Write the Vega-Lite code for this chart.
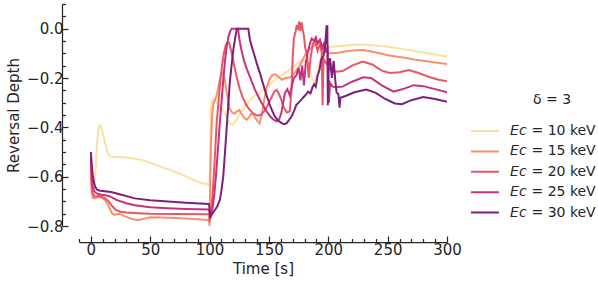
{
  "$schema": "https://vega.github.io/schema/vega-lite/v6.json",
  "autosize": {"type": "none"},
  "padding": {"left": 79, "top": 4, "right": 151, "bottom": 56},
  "width": 368,
  "height": 222,
  "background": "white",
  "config": {
    "view": {"stroke": null},
    "font": "DejaVu Sans",
    "axis": {"domainColor": "#262626", "domainWidth": 1.25, "tickColor": "#262626", "tickWidth": 1.25, "labelColor": "#262626", "titleColor": "#262626", "labelFont": "DejaVu Sans", "titleFont": "DejaVu Sans", "labelFontSize": 15, "titleFontSize": 15, "titleFontWeight": "normal", "grid": false, "labelOverlap": false, "labelFlush": false},
    "legend": {"labelFont": "DejaVu Sans", "titleFont": "DejaVu Sans", "labelFontSize": 14, "titleFontSize": 14, "titleFontWeight": "normal", "labelColor": "#262626", "titleColor": "#262626"}
  },
  "data": {"values": [
    {"s":"10","t":0,"v":-0.56},{"s":"10","t":1,"v":-0.6},{"s":"10","t":2.5,"v":-0.635},{"s":"10","t":3.5,"v":-0.61},{"s":"10","t":4.5,"v":-0.52},{"s":"10","t":5.5,"v":-0.45},{"s":"10","t":6.5,"v":-0.405},{"s":"10","t":7.5,"v":-0.39},{"s":"10","t":8.5,"v":-0.395},{"s":"10","t":10,"v":-0.42},{"s":"10","t":12,"v":-0.465},{"s":"10","t":14,"v":-0.5},{"s":"10","t":16,"v":-0.518},{"s":"10","t":18,"v":-0.52},{"s":"10","t":25,"v":-0.52},{"s":"10","t":35,"v":-0.525},{"s":"10","t":45,"v":-0.535},{"s":"10","t":55,"v":-0.553},{"s":"10","t":65,"v":-0.57},{"s":"10","t":75,"v":-0.588},{"s":"10","t":85,"v":-0.61},{"s":"10","t":92,"v":-0.625},{"s":"10","t":99.5,"v":-0.632},{"s":"10","t":100,"v":-0.63},{"s":"10","t":100.5,"v":-0.5},{"s":"10","t":101,"v":-0.33},{"s":"10","t":102,"v":-0.29},{"s":"10","t":104,"v":-0.288},{"s":"10","t":106,"v":-0.3},{"s":"10","t":108.5,"v":-0.315},{"s":"10","t":111,"v":-0.33},{"s":"10","t":113,"v":-0.345},{"s":"10","t":115,"v":-0.37},{"s":"10","t":117,"v":-0.385},{"s":"10","t":119.5,"v":-0.39},{"s":"10","t":122,"v":-0.375},{"s":"10","t":125,"v":-0.345},{"s":"10","t":128,"v":-0.33},{"s":"10","t":131,"v":-0.31},{"s":"10","t":134,"v":-0.29},{"s":"10","t":137,"v":-0.275},{"s":"10","t":142,"v":-0.26},{"s":"10","t":148,"v":-0.24},{"s":"10","t":153,"v":-0.215},{"s":"10","t":159,"v":-0.194},{"s":"10","t":165,"v":-0.175},{"s":"10","t":170.5,"v":-0.155},{"s":"10","t":176,"v":-0.135},{"s":"10","t":180,"v":-0.128},{"s":"10","t":182.5,"v":-0.135},{"s":"10","t":184.5,"v":-0.17},{"s":"10","t":186.5,"v":-0.205},{"s":"10","t":188.5,"v":-0.215},{"s":"10","t":190.5,"v":-0.19},{"s":"10","t":192.5,"v":-0.14},{"s":"10","t":194.5,"v":-0.1},{"s":"10","t":197,"v":-0.082},{"s":"10","t":200,"v":-0.075},{"s":"10","t":210,"v":-0.07},{"s":"10","t":220,"v":-0.066},{"s":"10","t":229.5,"v":-0.064},{"s":"10","t":240,"v":-0.068},{"s":"10","t":252,"v":-0.074},{"s":"10","t":266,"v":-0.085},{"s":"10","t":280,"v":-0.097},{"s":"10","t":290,"v":-0.105},{"s":"10","t":300,"v":-0.113},

    {"s":"15","t":0,"v":-0.6},{"s":"15","t":0.7,"v":-0.66},{"s":"15","t":1.5,"v":-0.685},{"s":"15","t":3,"v":-0.688},{"s":"15","t":6,"v":-0.683},{"s":"15","t":9,"v":-0.685},{"s":"15","t":12,"v":-0.695},{"s":"15","t":14,"v":-0.71},{"s":"15","t":16,"v":-0.73},{"s":"15","t":18,"v":-0.75},{"s":"15","t":20,"v":-0.755},{"s":"15","t":22,"v":-0.752},{"s":"15","t":24,"v":-0.75},{"s":"15","t":27,"v":-0.757},{"s":"15","t":31,"v":-0.765},{"s":"15","t":35,"v":-0.772},{"s":"15","t":40,"v":-0.777},{"s":"15","t":45,"v":-0.77},{"s":"15","t":50,"v":-0.765},{"s":"15","t":60,"v":-0.766},{"s":"15","t":70,"v":-0.768},{"s":"15","t":80,"v":-0.77},{"s":"15","t":90,"v":-0.773},{"s":"15","t":99.5,"v":-0.776},{"s":"15","t":100,"v":-0.8},{"s":"15","t":100.4,"v":-0.66},{"s":"15","t":101,"v":-0.5},{"s":"15","t":101.7,"v":-0.4},{"s":"15","t":102.5,"v":-0.33},{"s":"15","t":103.5,"v":-0.3},{"s":"15","t":105,"v":-0.285},{"s":"15","t":106.5,"v":-0.26},{"s":"15","t":108,"v":-0.22},{"s":"15","t":109.5,"v":-0.19},{"s":"15","t":111,"v":-0.18},{"s":"15","t":112.5,"v":-0.2},{"s":"15","t":114,"v":-0.245},{"s":"15","t":115.5,"v":-0.29},{"s":"15","t":117,"v":-0.325},{"s":"15","t":119,"v":-0.34},{"s":"15","t":121,"v":-0.345},{"s":"15","t":123,"v":-0.335},{"s":"15","t":125,"v":-0.33},{"s":"15","t":127,"v":-0.345},{"s":"15","t":129,"v":-0.36},{"s":"15","t":131,"v":-0.37},{"s":"15","t":133,"v":-0.36},{"s":"15","t":135,"v":-0.345},{"s":"15","t":137,"v":-0.35},{"s":"15","t":139.5,"v":-0.37},{"s":"15","t":142,"v":-0.385},{"s":"15","t":144,"v":-0.35},{"s":"15","t":146,"v":-0.29},{"s":"15","t":148,"v":-0.24},{"s":"15","t":150.5,"v":-0.205},{"s":"15","t":153,"v":-0.187},{"s":"15","t":155.5,"v":-0.185},{"s":"15","t":158,"v":-0.195},{"s":"15","t":161,"v":-0.207},{"s":"15","t":164,"v":-0.2},{"s":"15","t":167,"v":-0.198},{"s":"15","t":170,"v":-0.19},{"s":"15","t":173,"v":-0.17},{"s":"15","t":176,"v":-0.15},{"s":"15","t":179,"v":-0.12},{"s":"15","t":182,"v":-0.092},{"s":"15","t":185,"v":-0.08},{"s":"15","t":187,"v":-0.072},{"s":"15","t":189.5,"v":-0.062},{"s":"15","t":192,"v":-0.05},{"s":"15","t":194,"v":-0.06},{"s":"15","t":196.5,"v":-0.08},{"s":"15","t":199,"v":-0.098},{"s":"15","t":202,"v":-0.1},{"s":"15","t":208,"v":-0.098},{"s":"15","t":215.5,"v":-0.092},{"s":"15","t":222,"v":-0.088},{"s":"15","t":229.5,"v":-0.087},{"s":"15","t":236,"v":-0.093},{"s":"15","t":243.5,"v":-0.1},{"s":"15","t":250,"v":-0.108},{"s":"15","t":257,"v":-0.113},{"s":"15","t":266,"v":-0.119},{"s":"15","t":272,"v":-0.125},{"s":"15","t":280,"v":-0.13},{"s":"15","t":290,"v":-0.137},{"s":"15","t":300,"v":-0.143},

    {"s":"20","t":0,"v":-0.55},{"s":"20","t":0.7,"v":-0.62},{"s":"20","t":1.5,"v":-0.665},{"s":"20","t":3,"v":-0.68},{"s":"20","t":6,"v":-0.678},{"s":"20","t":9,"v":-0.68},{"s":"20","t":12,"v":-0.688},{"s":"20","t":15,"v":-0.7},{"s":"20","t":18,"v":-0.72},{"s":"20","t":21,"v":-0.735},{"s":"20","t":25,"v":-0.742},{"s":"20","t":30,"v":-0.745},{"s":"20","t":40,"v":-0.748},{"s":"20","t":50,"v":-0.75},{"s":"20","t":70,"v":-0.751},{"s":"20","t":99.5,"v":-0.752},{"s":"20","t":100,"v":-0.775},{"s":"20","t":101,"v":-0.765},{"s":"20","t":102,"v":-0.71},{"s":"20","t":103,"v":-0.64},{"s":"20","t":104,"v":-0.56},{"s":"20","t":105,"v":-0.47},{"s":"20","t":106,"v":-0.38},{"s":"20","t":107.5,"v":-0.3},{"s":"20","t":109,"v":-0.215},{"s":"20","t":110.5,"v":-0.15},{"s":"20","t":112,"v":-0.1},{"s":"20","t":113.5,"v":-0.07},{"s":"20","t":115,"v":-0.055},{"s":"20","t":116.5,"v":-0.058},{"s":"20","t":118,"v":-0.085},{"s":"20","t":119.5,"v":-0.12},{"s":"20","t":121,"v":-0.155},{"s":"20","t":123,"v":-0.2},{"s":"20","t":125.5,"v":-0.245},{"s":"20","t":128,"v":-0.28},{"s":"20","t":131,"v":-0.31},{"s":"20","t":134,"v":-0.33},{"s":"20","t":137,"v":-0.345},{"s":"20","t":140,"v":-0.352},{"s":"20","t":143,"v":-0.35},{"s":"20","t":146,"v":-0.335},{"s":"20","t":149,"v":-0.31},{"s":"20","t":152,"v":-0.28},{"s":"20","t":154.5,"v":-0.255},{"s":"20","t":156.5,"v":-0.248},{"s":"20","t":158.5,"v":-0.265},{"s":"20","t":160.5,"v":-0.29},{"s":"20","t":162.5,"v":-0.32},{"s":"20","t":165,"v":-0.34},{"s":"20","t":167.5,"v":-0.335},{"s":"20","t":169,"v":-0.25},{"s":"20","t":170,"v":-0.12},{"s":"20","t":171,"v":-0.04},{"s":"20","t":172.5,"v":-0.01},{"s":"20","t":173.5,"v":0.015},{"s":"20","t":174.5,"v":-0.005},{"s":"20","t":175.5,"v":0.03},{"s":"20","t":176.5,"v":-0.01},{"s":"20","t":177.5,"v":0.025},{"s":"20","t":178.5,"v":-0.005},{"s":"20","t":179.5,"v":-0.03},{"s":"20","t":180.5,"v":-0.078},{"s":"20","t":182,"v":-0.1},{"s":"20","t":183.5,"v":-0.2},{"s":"20","t":185,"v":-0.12},{"s":"20","t":187,"v":-0.06},{"s":"20","t":189,"v":-0.05},{"s":"20","t":191,"v":-0.09},{"s":"20","t":193,"v":-0.06},{"s":"20","t":194.5,"v":-0.1},{"s":"20","t":195.2,"v":-0.31},{"s":"20","t":196,"v":-0.12},{"s":"20","t":198,"v":-0.14},{"s":"20","t":200,"v":-0.15},{"s":"20","t":202,"v":-0.17},{"s":"20","t":206,"v":-0.175},{"s":"20","t":212,"v":-0.172},{"s":"20","t":220,"v":-0.15},{"s":"20","t":229,"v":-0.133},{"s":"20","t":237,"v":-0.145},{"s":"20","t":245,"v":-0.17},{"s":"20","t":252,"v":-0.18},{"s":"20","t":260,"v":-0.177},{"s":"20","t":268,"v":-0.168},{"s":"20","t":276,"v":-0.18},{"s":"20","t":285,"v":-0.196},{"s":"20","t":293,"v":-0.207},{"s":"20","t":300,"v":-0.213},

    {"s":"25","t":0,"v":-0.52},{"s":"25","t":0.7,"v":-0.6},{"s":"25","t":1.5,"v":-0.64},{"s":"25","t":3,"v":-0.66},{"s":"25","t":5,"v":-0.668},{"s":"25","t":8,"v":-0.672},{"s":"25","t":12,"v":-0.675},{"s":"25","t":17,"v":-0.682},{"s":"25","t":22,"v":-0.695},{"s":"25","t":30,"v":-0.708},{"s":"25","t":37,"v":-0.716},{"s":"25","t":50,"v":-0.724},{"s":"25","t":65,"v":-0.728},{"s":"25","t":80,"v":-0.731},{"s":"25","t":99.5,"v":-0.733},{"s":"25","t":100,"v":-0.75},{"s":"25","t":101.5,"v":-0.752},{"s":"25","t":102.5,"v":-0.73},{"s":"25","t":104,"v":-0.67},{"s":"25","t":105.5,"v":-0.59},{"s":"25","t":107,"v":-0.49},{"s":"25","t":108.5,"v":-0.39},{"s":"25","t":110,"v":-0.3},{"s":"25","t":111.5,"v":-0.21},{"s":"25","t":113,"v":-0.13},{"s":"25","t":114.5,"v":-0.07},{"s":"25","t":116,"v":-0.03},{"s":"25","t":117.5,"v":-0.01},{"s":"25","t":118.5,"v":0},{"s":"25","t":124,"v":0},{"s":"25","t":125,"v":-0.04},{"s":"25","t":126.5,"v":-0.08},{"s":"25","t":129,"v":-0.13},{"s":"25","t":131.5,"v":-0.165},{"s":"25","t":134,"v":-0.195},{"s":"25","t":138,"v":-0.245},{"s":"25","t":142.4,"v":-0.288},{"s":"25","t":145,"v":-0.31},{"s":"25","t":148,"v":-0.335},{"s":"25","t":151,"v":-0.355},{"s":"25","t":153.6,"v":-0.368},{"s":"25","t":156.5,"v":-0.376},{"s":"25","t":158.5,"v":-0.37},{"s":"25","t":160.5,"v":-0.34},{"s":"25","t":162,"v":-0.3},{"s":"25","t":163.5,"v":-0.26},{"s":"25","t":165.5,"v":-0.245},{"s":"25","t":167.5,"v":-0.27},{"s":"25","t":169,"v":-0.24},{"s":"25","t":171,"v":-0.2},{"s":"25","t":173,"v":-0.19},{"s":"25","t":175,"v":-0.16},{"s":"25","t":176.5,"v":-0.21},{"s":"25","t":178,"v":-0.15},{"s":"25","t":179.5,"v":-0.23},{"s":"25","t":181,"v":-0.14},{"s":"25","t":182.5,"v":-0.1},{"s":"25","t":184.5,"v":-0.06},{"s":"25","t":186,"v":-0.04},{"s":"25","t":188,"v":-0.05},{"s":"25","t":189.5,"v":-0.035},{"s":"25","t":191,"v":-0.06},{"s":"25","t":193,"v":-0.045},{"s":"25","t":195,"v":-0.08},{"s":"25","t":196.5,"v":-0.06},{"s":"25","t":198,"v":-0.09},{"s":"25","t":199.5,"v":-0.08},{"s":"25","t":200.5,"v":-0.3},{"s":"25","t":201.5,"v":-0.22},{"s":"25","t":203.5,"v":-0.235},{"s":"25","t":207,"v":-0.237},{"s":"25","t":212,"v":-0.235},{"s":"25","t":220,"v":-0.215},{"s":"25","t":229.5,"v":-0.197},{"s":"25","t":236,"v":-0.2},{"s":"25","t":245,"v":-0.23},{"s":"25","t":255,"v":-0.255},{"s":"25","t":264,"v":-0.243},{"s":"25","t":272,"v":-0.229},{"s":"25","t":280,"v":-0.233},{"s":"25","t":290,"v":-0.245},{"s":"25","t":300,"v":-0.258},

    {"s":"30","t":0,"v":-0.5},{"s":"30","t":0.7,"v":-0.55},{"s":"30","t":1.5,"v":-0.59},{"s":"30","t":2.5,"v":-0.62},{"s":"30","t":3.5,"v":-0.64},{"s":"30","t":5,"v":-0.652},{"s":"30","t":7,"v":-0.656},{"s":"30","t":10,"v":-0.658},{"s":"30","t":17,"v":-0.662},{"s":"30","t":25,"v":-0.672},{"s":"30","t":37,"v":-0.688},{"s":"30","t":50,"v":-0.696},{"s":"30","t":65,"v":-0.701},{"s":"30","t":80,"v":-0.706},{"s":"30","t":99.5,"v":-0.711},{"s":"30","t":100,"v":-0.73},{"s":"30","t":100.6,"v":-0.762},{"s":"30","t":102,"v":-0.752},{"s":"30","t":104.5,"v":-0.735},{"s":"30","t":106.5,"v":-0.72},{"s":"30","t":108.7,"v":-0.694},{"s":"30","t":110,"v":-0.655},{"s":"30","t":111.5,"v":-0.6},{"s":"30","t":113,"v":-0.5},{"s":"30","t":114.3,"v":-0.41},{"s":"30","t":115.6,"v":-0.32},{"s":"30","t":117,"v":-0.22},{"s":"30","t":118.5,"v":-0.15},{"s":"30","t":120,"v":-0.085},{"s":"30","t":121.5,"v":-0.04},{"s":"30","t":123,"v":0},{"s":"30","t":132.6,"v":0},{"s":"30","t":134,"v":-0.045},{"s":"30","t":136,"v":-0.08},{"s":"30","t":138,"v":-0.112},{"s":"30","t":140,"v":-0.145},{"s":"30","t":142.4,"v":-0.18},{"s":"30","t":144.5,"v":-0.215},{"s":"30","t":146.6,"v":-0.248},{"s":"30","t":148.7,"v":-0.28},{"s":"30","t":150.8,"v":-0.31},{"s":"30","t":153,"v":-0.335},{"s":"30","t":155,"v":-0.356},{"s":"30","t":158,"v":-0.373},{"s":"30","t":160.7,"v":-0.383},{"s":"30","t":163,"v":-0.387},{"s":"30","t":165,"v":-0.383},{"s":"30","t":167,"v":-0.37},{"s":"30","t":169,"v":-0.356},{"s":"30","t":171,"v":-0.335},{"s":"30","t":173,"v":-0.31},{"s":"30","t":175,"v":-0.3},{"s":"30","t":177,"v":-0.29},{"s":"30","t":178.7,"v":-0.28},{"s":"30","t":181,"v":-0.268},{"s":"30","t":183,"v":-0.255},{"s":"30","t":185,"v":-0.262},{"s":"30","t":186.5,"v":-0.24},{"s":"30","t":188,"v":-0.225},{"s":"30","t":189.5,"v":-0.235},{"s":"30","t":191,"v":-0.19},{"s":"30","t":192.5,"v":-0.17},{"s":"30","t":194,"v":-0.125},{"s":"30","t":196,"v":-0.11},{"s":"30","t":197.5,"v":-0.06},{"s":"30","t":198.5,"v":0.01},{"s":"30","t":199.2,"v":0.01},{"s":"30","t":199.6,"v":-0.31},{"s":"30","t":200.3,"v":-0.14},{"s":"30","t":201.5,"v":-0.12},{"s":"30","t":203,"v":-0.2},{"s":"30","t":204.5,"v":-0.13},{"s":"30","t":206,"v":-0.215},{"s":"30","t":207,"v":-0.26},{"s":"30","t":208.5,"v":-0.265},{"s":"30","t":209.5,"v":-0.32},{"s":"30","t":210.2,"v":-0.28},{"s":"30","t":215,"v":-0.272},{"s":"30","t":222,"v":-0.258},{"s":"30","t":232,"v":-0.247},{"s":"30","t":240,"v":-0.26},{"s":"30","t":248,"v":-0.285},{"s":"30","t":256,"v":-0.303},{"s":"30","t":262,"v":-0.306},{"s":"30","t":270,"v":-0.29},{"s":"30","t":280,"v":-0.277},{"s":"30","t":290,"v":-0.285},{"s":"30","t":300,"v":-0.296}
  ]},
  "mark": {"type": "line", "strokeWidth": 2, "interpolate": "linear", "clip": true},
  "encoding": {
    "x": {"field": "t", "type": "quantitative",
      "scale": {"domain": [-10, 300], "nice": false, "zero": false},
      "axis": {"title": "Time [s]", "offset": 16, "labelFontSize": 15, "titleFontSize": 15,
        "values": [-10,0,10,20,30,40,50,60,70,80,90,100,110,120,130,140,150,160,170,180,190,200,210,220,230,240,250,260,270,280,290,300],
        "labelExpr": "datum.value % 50 == 0 ? datum.label : ''",
        "tickSize": {"condition": {"test": "datum.value % 50 == 0", "value": -6}, "value": -3.5},
        "labelPadding": 6, "titlePadding": 2}},
    "y": {"field": "v", "type": "quantitative",
      "scale": {"domain": [-0.8, 0.1], "nice": false, "zero": false},
      "axis": {"title": "Reversal Depth", "offset": 17, "labelFontSize": 15, "titleFontSize": 15,
        "values": [0.1,0.05,0,-0.05,-0.1,-0.15,-0.2,-0.25,-0.3,-0.35,-0.4,-0.45,-0.5,-0.55,-0.6,-0.65,-0.7,-0.75,-0.8],
        "labelExpr": "abs(round(datum.value*100)) % 20 == 0 ? replace(format(datum.value, '.1f'), '-', '−') : ''",
        "tickSize": {"condition": {"test": "abs(round(datum.value*100)) % 20 == 0", "value": -6}, "value": -3.5},
        "labelPadding": 5, "titlePadding": 5}},
    "color": {"field": "s", "type": "nominal",
      "scale": {"domain": ["10","15","20","25","30"], "range": ["#fde0a1","#f9906c","#ea5568","#c8317c","#7d2079"]},
      "legend": {"title": "δ = 3", "orient": "none", "legendX": 391, "legendY": 89,
        "symbolType": "stroke", "symbolSize": 784, "symbolStrokeWidth": 2,
        "clipHeight": 14, "rowPadding": 6.4, "labelOffset": 10, "titlePadding": 17, "titleAnchor": "middle", "titleAlign": "left",
        "labelExpr": "'𝘌𝘤 = ' + datum.label + ' keV'"}}
  }
}
